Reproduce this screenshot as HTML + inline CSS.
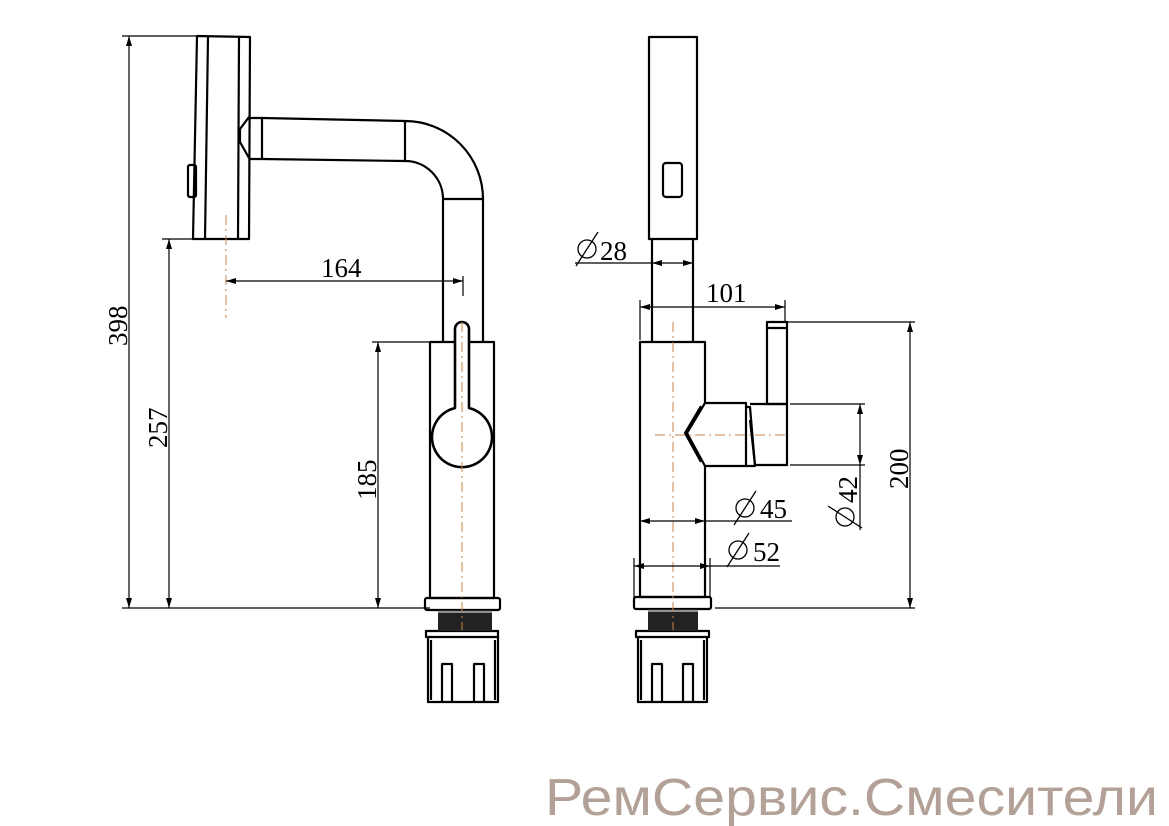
<!DOCTYPE html>
<html><head><meta charset="utf-8"><style>html,body{margin:0;padding:0;background:#fff}svg{display:block}</style></head>
<body>
<svg width="1169" height="826" viewBox="0 0 1169 826" xmlns="http://www.w3.org/2000/svg">
<defs>
<marker id="a" viewBox="0 0 10 6" refX="10" refY="3" markerWidth="10" markerHeight="6" orient="auto-start-reverse" markerUnits="userSpaceOnUse"><path d="M0,0L10,3L0,6z" fill="#000"/></marker>
</defs>
<g fill="none" stroke="#000" stroke-width="2.2" stroke-linejoin="round">
<!-- LEFT VIEW -->
<path d="M197,36 L250,37 L249,239 L193,239 Z"/>
<line x1="208" y1="37" x2="205" y2="239"/>
<line x1="239" y1="37" x2="238" y2="239"/>
<rect x="188" y="165" width="8" height="32" rx="2"/>
<path d="M249,117 L240,129 L240,142 L249,158"/>
<path d="M249,118 L262,118 L262,159 L249,159"/>
<path d="M262,118 L405,121 A78,78 0 0 1 483,199 L483,342"/>
<path d="M262,159 L405,161 A38,38 0 0 1 443,199 L443,342"/>
<line x1="405" y1="121" x2="405" y2="161"/>
<line x1="443" y1="199" x2="483" y2="199"/>
<rect x="430" y="342" width="64" height="256"/>
<path d="M455,329 L455,408 A30,30 0 1 0 469,408 L469,329 A7,7 0 0 0 455,329 Z" fill="#fff" stroke-width="2.6"/>
<rect x="425" y="598" width="75" height="12" rx="2"/>
<rect x="426" y="631" width="72" height="6"/>
<path d="M428,637 L428,702 L498,702 L498,637"/>
<line x1="431" y1="640" x2="431" y2="700"/>
<line x1="495" y1="640" x2="495" y2="700"/>
<path d="M442,702 L442,664 L452,664 L452,702"/>
<path d="M474,702 L474,664 L484,664 L484,702"/>
<!-- RIGHT VIEW -->
<rect x="649" y="37" width="48" height="202"/>
<rect x="663" y="163" width="19" height="34" rx="3"/>
<line x1="652" y1="239" x2="652" y2="342"/>
<line x1="693" y1="239" x2="693" y2="342"/>
<path d="M705,403 L705,342 L640,342 L640,597 L705,597 L705,466"/>
<path d="M705,403 L746,403 L746,466 L705,466 L687,433 Z"/>
<path d="M701,406 L685,433 L701,462"/>
<path d="M746,407 L750,407 L755,466 L746,466"/>
<path d="M750,404 L787,404 L787,465 L755,465 L750,420"/>
<rect x="767" y="322" width="20" height="82"/>
<line x1="767" y1="328" x2="787" y2="328"/>
<rect x="634" y="597" width="77" height="12" rx="2"/>
<rect x="636" y="631" width="73" height="6"/>
<path d="M638,637 L638,702 L707,702 L707,637"/>
<line x1="641" y1="640" x2="641" y2="700"/>
<line x1="704" y1="640" x2="704" y2="700"/>
<path d="M652,702 L652,664 L662,664 L662,702"/>
<path d="M683,702 L683,664 L693,664 L693,702"/>
</g>
<!-- threads -->
<rect x="438" y="610" width="54" height="21" fill="#222"/>
<line x1="438" y1="612" x2="492" y2="612" stroke="#fff" stroke-width="1"/>
<rect x="648" y="609" width="50" height="22" fill="#222"/>
<line x1="648" y1="611" x2="698" y2="611" stroke="#fff" stroke-width="1"/>
<!-- center lines -->
<g stroke="#c8864a" stroke-width="1" stroke-dasharray="10,4,2,4" fill="none">
<line x1="226" y1="215" x2="226" y2="318"/>
<line x1="462" y1="322" x2="462" y2="630"/>
<line x1="673" y1="322" x2="673" y2="630"/>
<line x1="655" y1="435" x2="787" y2="435"/>
</g>
<!-- dimensions -->
<g stroke="#000" stroke-width="1.2" fill="none">
<line x1="122" y1="36" x2="197" y2="36"/>
<line x1="122" y1="608" x2="430" y2="608"/>
<line x1="129" y1="36" x2="129" y2="608" marker-start="url(#a)" marker-end="url(#a)"/>
<line x1="162" y1="239" x2="193" y2="239"/>
<line x1="169" y1="239" x2="169" y2="608" marker-start="url(#a)" marker-end="url(#a)"/>
<line x1="372" y1="342" x2="430" y2="342"/>
<line x1="378" y1="342" x2="378" y2="608" marker-start="url(#a)" marker-end="url(#a)"/>
<line x1="226" y1="281" x2="463" y2="281" marker-start="url(#a)" marker-end="url(#a)"/>
<line x1="463" y1="276" x2="463" y2="296"/>
<line x1="575" y1="263" x2="652" y2="263"/>
<line x1="652" y1="263" x2="693" y2="263" marker-start="url(#a)" marker-end="url(#a)"/>
<line x1="640" y1="300" x2="640" y2="340"/>
<line x1="785" y1="300" x2="785" y2="322"/>
<line x1="640" y1="307" x2="785" y2="307" marker-start="url(#a)" marker-end="url(#a)"/>
<line x1="787" y1="322" x2="915" y2="322"/>
<line x1="715" y1="608" x2="915" y2="608"/>
<line x1="910" y1="322" x2="910" y2="608" marker-start="url(#a)" marker-end="url(#a)"/>
<line x1="790" y1="404" x2="865" y2="404"/>
<line x1="790" y1="465" x2="865" y2="465"/>
<line x1="860" y1="404" x2="860" y2="465" marker-start="url(#a)" marker-end="url(#a)"/>
<line x1="860" y1="465" x2="860" y2="530"/>
<line x1="640" y1="521" x2="705" y2="521" marker-start="url(#a)" marker-end="url(#a)"/>
<line x1="705" y1="521" x2="792" y2="521"/>
<line x1="634" y1="558" x2="634" y2="597"/>
<line x1="710" y1="558" x2="710" y2="597"/>
<line x1="634" y1="566" x2="710" y2="566" marker-start="url(#a)" marker-end="url(#a)"/>
<line x1="710" y1="566" x2="780" y2="566"/>
</g>
<!-- diameter symbols -->
<g fill="none" stroke="#000" stroke-width="1.3">
<circle cx="587" cy="249" r="9"/><line x1="576" y1="266" x2="598" y2="232"/>
<circle cx="745" cy="508" r="9"/><line x1="734" y1="525" x2="756" y2="491"/>
<circle cx="738" cy="550" r="9"/><line x1="727" y1="567" x2="749" y2="533"/>
<circle cx="845" cy="517" r="9"/><line x1="828" y1="506" x2="862" y2="528"/>
</g>
<g font-family="'Liberation Serif',serif" font-size="27" fill="#000">
<text x="321" y="277">164</text>
<text x="600" y="260">28</text>
<text x="706" y="302">101</text>
<text x="760" y="518">45</text>
<text x="753" y="561">52</text>
<text transform="translate(127,346) rotate(-90)">398</text>
<text transform="translate(167,448) rotate(-90)">257</text>
<text transform="translate(376,500) rotate(-90)">185</text>
<text transform="translate(908,489) rotate(-90)">200</text>
<text transform="translate(857,503) rotate(-90)">42</text>
</g>
<text x="545" y="815" font-family="'Liberation Sans',sans-serif" font-size="52" fill="#b3a197" textLength="613" lengthAdjust="spacingAndGlyphs">РемСервис.Смесители</text>
</svg>
</body></html>
